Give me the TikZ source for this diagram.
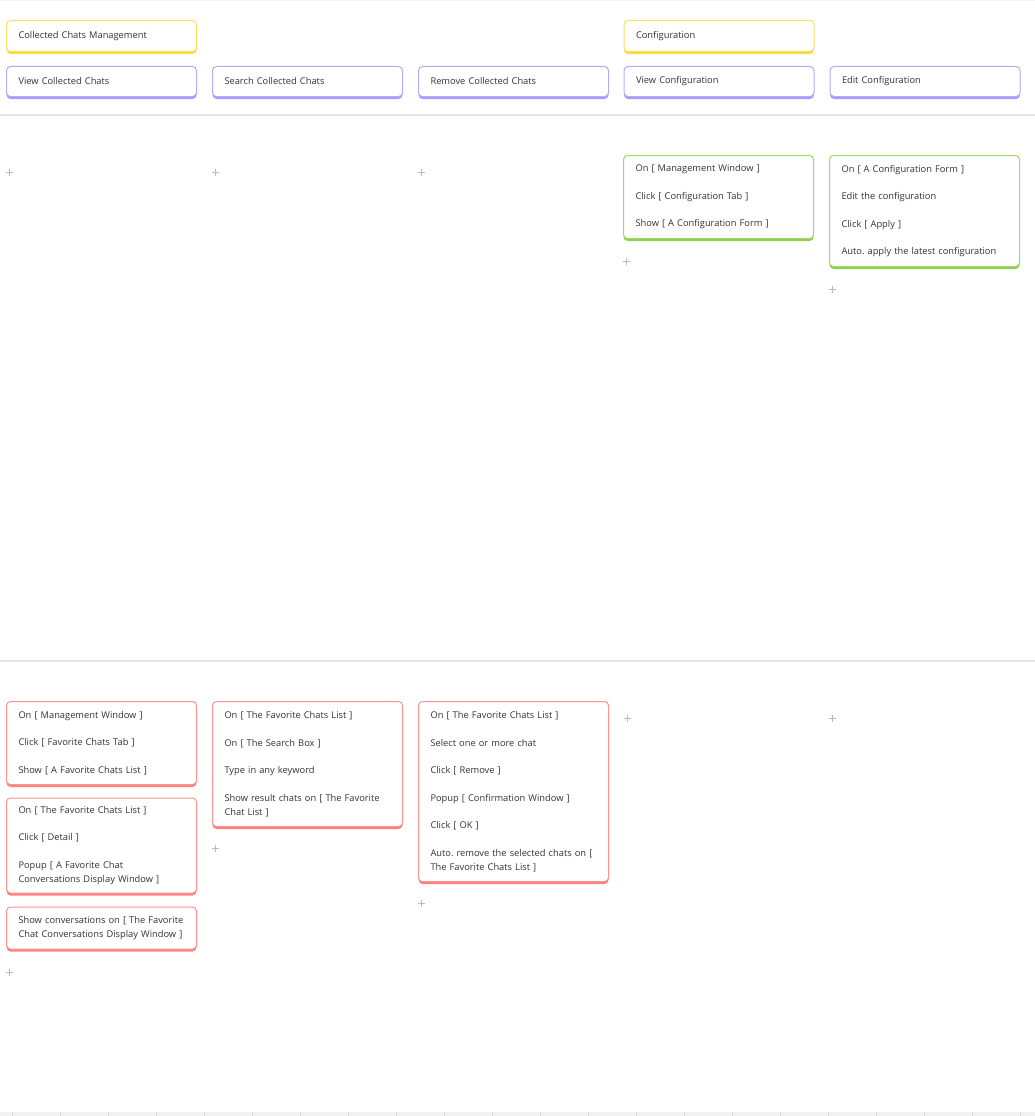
\documentclass[tikz,border=0pt]{standalone}
\usepackage{fontspec}
\setmainfont{Open Sans}
\usepackage{tikz}
\usetikzlibrary{positioning}
\definecolor{noteYellow}{HTML}{FFD93D}
\definecolor{notePurple}{HTML}{A99BFF}
\definecolor{noteGreen}{HTML}{8FD14F}
\definecolor{noteRed}{HTML}{FF8080}
\definecolor{noteText}{HTML}{333333}
\definecolor{laneGray}{HTML}{E4E4E4}
\frenchspacing

\begin{document}
\begin{tikzpicture}[
  x=1pt, y=-1pt,
  font=\fontsize{9.3}{14}\selectfont,
  card/.style={rectangle, rounded corners=4pt, draw=#1!85!white, line width=1pt, fill=white,
    preaction={fill=#1, transform canvas={yshift=-2.5pt}},
    text width=166pt, inner xsep=12pt, inner ysep=2pt, align=left, anchor=north west, text=noteText},
  head/.style={card=#1, minimum height=31pt},
  lane/.style={draw=laneGray, line width=1.5pt},
  plusmark/.style={draw=gray!55, line width=0.6pt}
]
\useasboundingbox (0,0) rectangle (1035,1116);
\fill[gray!8] (0,0) rectangle (1035,1.5);
\fill[gray!10] (0,1112) rectangle (1035,1116);
\foreach \tx in {12,60,...,1020} \draw[gray!30, line width=0.6pt] (\tx,1112) -- (\tx,1116);
\draw[lane] (0,115) -- (1035,115);
\draw[lane] (0,661) -- (1035,661);

% activities
\node[head=notePurple, minimum height=30pt] (viewchats) at (6,66) {View Collected Chats};
\node[head=notePurple, minimum height=30pt, right=15pt of viewchats] (searchchats) {Search Collected Chats};
\node[head=notePurple, minimum height=30pt, right=15pt of searchchats] (removechats) {Remove Collected Chats};
\node[head=notePurple, minimum height=30pt, right=14.5pt of removechats] (viewconf) {View Configuration};
\node[head=notePurple, minimum height=30pt, right=15pt of viewconf] (editconf) {Edit Configuration};

% backbone
\node[head=noteYellow, above=14pt of viewchats] (chatsmgmt) {Collected Chats Management};
\node[head=noteYellow, above=14pt of viewconf] (config) {Configuration};

% release 1
\node[card=noteGreen, minimum height=83pt] (viewconfsteps) at (623,155)
  {On [ Management Window ]\\[13.5pt] Click [ Configuration Tab ]\\[13.5pt] Show [ A Configuration Form ]};
\node[card=noteGreen, minimum height=111pt] (editconfsteps) at (829,155)
  {On [ A Configuration Form ]\\[13.5pt] Edit the configuration\\[13.5pt] Click [ Apply ]\\[13.5pt] Auto. apply the latest configuration};

% release 2
\node[card=noteRed, minimum height=83pt] (openlist) at (6,701)
  {On [ Management Window ]\\[13.5pt] Click [ Favorite Chats Tab ]\\[13.5pt] Show [ A Favorite Chats List ]};
\node[card=noteRed, minimum height=95pt, below=12.5pt of openlist] (opendetail)
  {On [ The Favorite Chats List ]\\[13.5pt] Click [ Detail ]\\[13.5pt] Popup [ A Favorite Chat\\ Conversations Display Window ]};
\node[card=noteRed, minimum height=42pt, below=13pt of opendetail] (showconv)
  {Show conversations on [ The Favorite\\ Chat Conversations Display Window ]};
\node[card=noteRed, minimum height=125pt] (searchsteps) at (212,701)
  {On [ The Favorite Chats List ]\\[13.5pt] On [ The Search Box ]\\[13.5pt] Type in any keyword\\[13.5pt] Show result chats on [ The Favorite\\ Chat List ]};
\node[card=noteRed, minimum height=180pt] (removesteps) at (418,701)
  {On [ The Favorite Chats List ]\\[13.5pt] Select one or more chat\\[13.5pt] Click [ Remove ]\\[13.5pt] Popup [ Confirmation Window ]\\[13.5pt] Click [ OK ]\\[13.5pt] Auto. remove the selected chats on [\\ The Favorite Chats List ]};

% add marks
\foreach \px/\py in {9/172, 215/172, 421/172, 626/261, 832/289, 627/718, 832/718, 215/848, 421/903, 9/972}
  \draw[plusmark] (\px-3.5,\py) -- (\px+3.5,\py) (\px,\py-3.5) -- (\px,\py+3.5);
\end{tikzpicture}
\end{document}
